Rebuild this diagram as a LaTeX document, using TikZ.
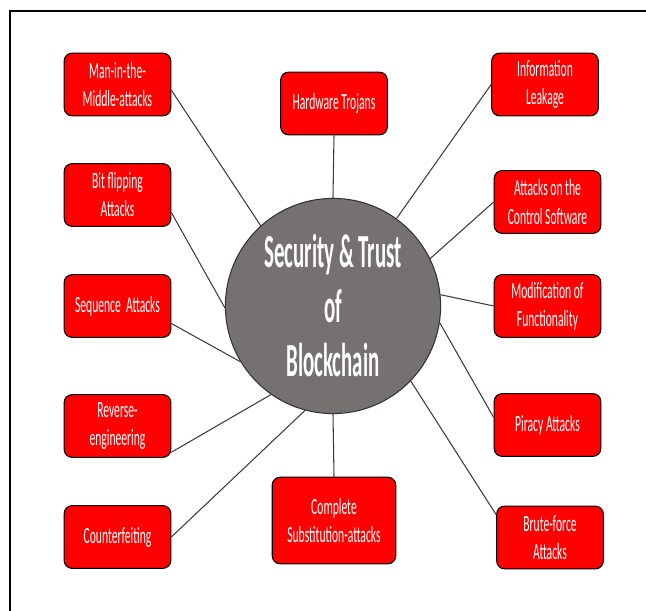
\documentclass[tikz,border=0pt]{standalone}
\usepackage{fontspec}
\newfontfamily\boxfont[FakeStretch=0.5]{Carlito}
\newfontfamily\corefont[FakeStretch=0.44]{Carlito}
\definecolor{coregray}{HTML}{767171}
\definecolor{linkgray}{HTML}{3C3C3C}

\begin{document}
\begin{tikzpicture}[x=0.02cm,y=0.02cm,
  attack/.style={draw=black,line width=0.6pt,fill=red,rounded corners=4.5pt,
    text=white,align=center,inner sep=0pt,
    minimum width=60.7pt,minimum height=35.7pt,
    font=\boxfont\fontsize{13.2}{16}\selectfont},
  core/.style={circle,draw=black!80,line width=0.6pt,fill=coregray,
    text=white,align=center,inner sep=0pt,minimum size=122.5pt,
    font=\corefont\bfseries\fontsize{27}{31}\selectfont},
  link/.style={draw=linkgray,line width=0.6pt}]
\useasboundingbox (0,0) rectangle (646,611);

% Frame (only top and left edges are visible).
\draw[line width=0.7pt] (646,600) -- (10,600) -- (10,0);

% The centre.
\node[core] (c) at (333,305) {Security \& Trust\\of\\Blockchain};

% Left column.
\node[attack] (mitm)    at (117.5,526.5) {Man-in-the-\\Middle-attacks};
\node[attack] (bitflip) at (117.5,416)   {Bit flipping\\Attacks};
\node[attack] (seq)     at (117.5,305)   {Sequence~ Attacks};
\node[attack] (rev)     at (117.5,185)   {Reverse-\\engineering};
\node[attack] (counter) at (117.5,74)    {Counterfeiting};

% Middle column.
\node[attack] (hw) at (334,507.5) {Hardware Trojans};
\node[attack,minimum width=70.3pt,minimum height=49.3pt] (subst) at (334,90.5)
  {Complete\\Substitution-attacks};

% Right column.
\node[attack] (info)    at (545,526.5) {Information\\Leakage};
\node[attack] (control) at (547.5,409) {Attacks on the\\Control Software};
\node[attack] (modif)   at (547.5,305) {Modification of\\Functionality};
\node[attack] (piracy)  at (547.5,186) {Piracy Attacks};
\node[attack] (brute)   at (550,73.5)  {Brute-force\\Attacks};

% Connectors.
\draw[link] (mitm.-6) -- (c.132);
\draw[link] (bitflip.-18) -- (c.181);
\draw[link] (seq.-18) -- (c.211);
\draw[link] (rev.-26) -- (c.235);
\draw[link] (counter.east) -- (c.255);
\draw[link] (hw.south) -- (c.90);
\draw[link] (subst.north) -- (c.270);
\draw[link] (info.west) -- (c.54);
\draw[link] (control.west) -- (c.26);
\draw[link] (modif.west) -- (c.6);
\draw[link] (piracy.172) -- (c.-9);
\draw[link] (brute.157) -- (c.-44);

\end{tikzpicture}
\end{document}
